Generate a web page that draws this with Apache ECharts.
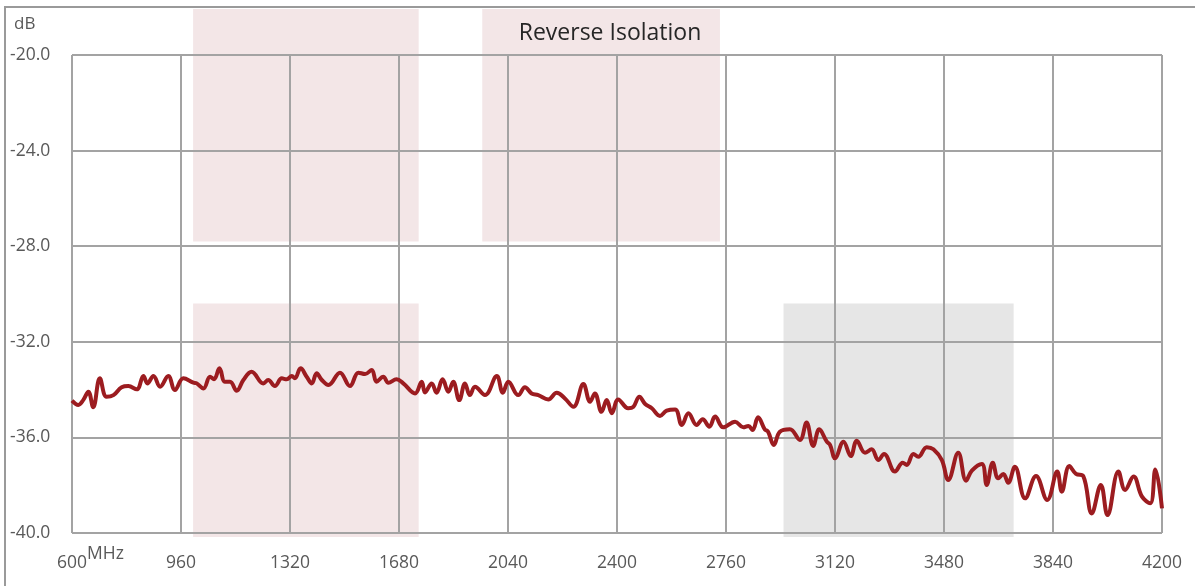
<!DOCTYPE html>
<html lang="en">
  <head>
    <meta charset="utf-8" />
    <title>Reverse Isolation</title>
    <script src="https://cdn.jsdelivr.net/npm/echarts@6/dist/echarts.min.js"></script>
    <style>
      html, body { margin: 0; padding: 0; background: #fff; }
      #main { width: 1195px; height: 586px; }
    </style>
  </head>
  <body>
    <div id="main"></div>
    <script type="text/javascript">
      var freqMHz = [
        600, 621, 637, 654, 670, 692, 714, 737, 764, 786, 814, 836, 849, 869, 891, 918, 940, 968,
        1001, 1012, 1034, 1056, 1069, 1087, 1105, 1122, 1144, 1166, 1193, 1232, 1248, 1270, 1293,
        1309, 1326, 1336, 1355, 1375, 1392, 1408, 1425, 1447, 1485, 1518, 1546, 1568, 1590, 1606,
        1628, 1645, 1672, 1694, 1733, 1755, 1766, 1788, 1804, 1824, 1843, 1859, 1879, 1898, 1914,
        1931, 1964, 2003, 2023, 2041, 2074, 2096, 2118, 2140, 2173, 2201, 2228, 2256, 2289, 2311,
        2327, 2349, 2366, 2383, 2404, 2437, 2454, 2474, 2493, 2515, 2542, 2564, 2592, 2614, 2636,
        2663, 2683, 2705, 2724, 2751, 2790, 2817, 2834, 2848, 2866, 2888, 2899, 2918, 2938, 2971,
        3004, 3026, 3048, 3068, 3093, 3104, 3120, 3148, 3172, 3192, 3219, 3241, 3263, 3282, 3318,
        3344, 3357, 3379, 3395, 3423, 3445, 3473, 3494, 3527, 3553, 3572, 3605, 3621, 3641, 3659,
        3676, 3692, 3714, 3748, 3784, 3821, 3854, 3869, 3894, 3916, 3940, 3968, 3998, 4020, 4056,
        4078, 4106, 4134, 4161, 4178, 4200
      ];
      var isolationDb = [
        -34.46, -34.64, -34.44, -34.09, -34.74, -33.53, -34.3, -34.23, -33.9, -33.85, -33.99, -33.43,
        -33.74, -33.43, -33.88, -33.43, -34.02, -33.53,
        -33.71, -33.74, -33.95, -33.46, -33.57, -33.11, -33.67, -33.67, -34.05, -33.6, -33.25, -33.74,
        -33.6, -33.85, -33.53, -33.57, -33.43, -33.53, -33.11, -33.46, -33.74, -33.32, -33.6, -33.81,
        -33.29, -33.85, -33.29, -33.35, -33.18, -33.67, -33.46, -33.71, -33.57, -33.74, -34.16, -33.67,
        -34.12, -33.74, -34.13, -33.57, -34.09, -33.67, -34.44, -33.74, -34.23, -33.88, -34.23, -33.43,
        -34.13, -33.67, -34.23, -33.9, -34.16, -34.23, -34.41, -34.13, -34.37, -34.72, -33.77, -34.51,
        -34.16, -34.93, -34.44, -34.99, -34.41, -34.78, -34.72, -34.3, -34.6, -34.78, -35.1, -34.88,
        -34.83, -35.48, -34.99, -35.48, -35.24, -35.55, -35.13, -35.58, -35.34, -35.58, -35.52, -35.69,
        -35.16, -35.66, -35.76, -36.32, -35.76, -35.66,
        -36.11, -35.38, -36.36, -35.66, -36.18, -36.32, -36.87, -36.18, -36.78, -36.14, -36.64, -36.5,
        -36.95, -36.69, -37.43, -37.06, -37.15, -36.69, -36.81, -36.41, -36.5, -36.95, -37.78, -36.64,
        -37.81, -37.39, -37.11, -37.99, -37.06, -37.71, -37.53, -37.9, -37.23, -38.55, -37.62, -38.62,
        -37.43, -38.27, -37.2, -37.53, -37.62, -39.18, -37.99, -39.25, -37.43, -38.2, -37.64, -38.48,
        -38.76, -37.34, -38.97
      ];

      // shaded bands (MHz from/to, dB top/bottom)
      var bandFrom = [1000, 1955, 1000, 2950];
      var bandTo = [1745, 2740, 1745, 3710];
      var bandTop = [-18.08, -18.08, -30.4, -30.4];
      var bandBottom = [-27.8, -27.8, -40.17, -40.17];
      var bandKind = ["pink", "pink", "pink", "gray"];

      var xTicks = { min: 600, max: 4200, step: 360 };
      var yTicks = { min: -40, max: -20, step: 4 };

      var bandFill = { pink: "#f3e6e7", gray: "#e6e6e6" };
      var font = "Open Sans";

      var chart = echarts.init(document.getElementById("main"));

      var trace = freqMHz.map(function (f, i) { return [f, isolationDb[i]]; });
      var bands = bandFrom.map(function (f, i) {
        return [f, bandTo[i], bandTop[i], bandBottom[i], bandKind[i]];
      });

      var option = {
        backgroundColor: "#ffffff",
        animation: false,
        title: {
          text: "Reverse Isolation",
          left: 605,
          top: 17,
          textAlign: "center",
          textStyle: { fontFamily: font, fontSize: 23, fontWeight: "normal", color: "#262626" }
        },
        graphic: [
          {
            type: "rect",
            shape: { x: 5, y: 7, width: 1300, height: 700 },
            style: { fill: "none", stroke: "#9a9a9a", lineWidth: 2 },
            z: 100
          },
          {
            type: "text",
            left: 14,
            top: 16,
            style: { text: "dB", font: "17px '" + font + "'", fill: "#595959" }
          },
          {
            type: "text",
            left: 87,
            top: 545,
            style: { text: "MHz", font: "17.5px '" + font + "'", fill: "#595959" }
          }
        ],
        grid: { left: 72, right: 33, top: 55, bottom: 53, containLabel: false },
        xAxis: {
          type: "value",
          min: xTicks.min,
          max: xTicks.max,
          interval: xTicks.step,
          axisLine: { show: false },
          axisTick: { show: false },
          axisLabel: {
            margin: 21,
            color: "#595959",
            fontFamily: font,
            fontSize: 17.5,
            formatter: function (v) { return String(v); }
          },
          splitLine: { show: true, lineStyle: { color: "#a3a3a3", width: 2 } }
        },
        yAxis: {
          type: "value",
          min: yTicks.min,
          max: yTicks.max,
          interval: yTicks.step,
          axisLine: { show: false },
          axisTick: { show: false },
          axisLabel: {
            align: "left",
            margin: 62,
            color: "#595959",
            fontFamily: font,
            fontSize: 17.5,
            formatter: function (v) { return v.toFixed(1); }
          },
          splitLine: { show: true, lineStyle: { color: "#a3a3a3", width: 2 } }
        },
        series: [
          {
            type: "custom",
            z: -10,
            clip: false,
            silent: true,
            data: bands,
            renderItem: function (params, api) {
              var p0 = api.coord([api.value(0), api.value(2)]);
              var p1 = api.coord([api.value(1), api.value(3)]);
              return {
                type: "rect",
                shape: { x: p0[0], y: p0[1], width: p1[0] - p0[0], height: p1[1] - p0[1] },
                style: { fill: bandFill[bands[params.dataIndex][4]] }
              };
            }
          },
          {
            type: "line",
            data: trace,
            smooth: 0.4,
            symbol: "none",
            z: 5,
            lineStyle: { color: "#9c1c20", width: 4 }
          }
        ]
      };

      chart.setOption(option);
    </script>
  </body>
</html>
